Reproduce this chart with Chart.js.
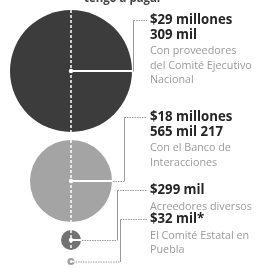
<!DOCTYPE html>
<html>
<head>
<meta charset="utf-8">
<script src="https://cdn.jsdelivr.net/npm/chart.js@4.4.1/dist/chart.umd.min.js"></script>
<style>
  html, body { margin: 0; padding: 0; background: #fff; }
  canvas { display: block; }
</style>
</head>
<body>
<canvas id="debtChart" width="263" height="268"></canvas>
<script>
// what is owed, biggest first
const amounts = [29309000, 18565217, 299000, 32000];
const amountLabels = [['$29 millones', '309 mil'], ['$18 millones', '565 mil 217'], ['$299 mil'], ['$32 mil*']];
const creditors = [
  ['Con proveedores', 'del Comité Ejecutivo', 'Nacional'],
  ['Con el Banco de', 'Interacciones'],
  ['Acreedores diversos'],
  ['El Comité Estatal en', 'Puebla']
];
// circle sizes as printed (the graphic is not to scale)
const circleSizes = [61, 41, 10, 3.5];
const topLine = 'tengo a pagar';

// layout stuff
const circleColors = ['#3c3c3c', '#a4a4a4', '#727272', '#9e9e9e'];
const topMargin = 10;
const circleGap = 8;
const elbowX = [133, 124, 117, 120];   // where the leader turns up
const labelY = [20, 117, 190, 219];    // first line of each label
const textX = 150;

// stack the circles one under the other
let cursor = topMargin;
const bubbles = circleSizes.map((r, i) => {
  const y = cursor + r;
  cursor = y + r + circleGap;
  return { x: 0, y: y, r: r, amount: amounts[i] };
});

const drawSqueezed = (ctx, str, x, y, squeeze) => {
  ctx.save();
  ctx.translate(x, y);
  ctx.scale(squeeze, 1);
  ctx.fillText(str, 0, 0);
  ctx.restore();
};

const calloutPlugin = {
  id: 'callouts',
  afterDatasetsDraw(chart) {
    const ctx = chart.ctx;
    const pts = chart.getDatasetMeta(0).data;
    ctx.save();

    // white dashed spine down the middle of the circles
    const first = pts[0], third = pts[2];
    ctx.strokeStyle = '#fff';
    ctx.lineWidth = 1.5;
    ctx.setLineDash([3, 2]);
    ctx.beginPath();
    ctx.moveTo(first.x, first.y - circleSizes[0]);
    ctx.lineTo(first.x, third.y + circleSizes[2]);
    ctx.stroke();
    ctx.setLineDash([]);

    pts.forEach((pt, i) => {
      const r = circleSizes[i];
      // white radius to the right + centre dot
      ctx.strokeStyle = '#fff';
      ctx.lineWidth = i === 3 ? 1.5 : 2;
      ctx.beginPath();
      ctx.moveTo(pt.x, pt.y);
      ctx.lineTo(pt.x + r, pt.y);
      ctx.stroke();
      ctx.fillStyle = '#fff';
      ctx.beginPath();
      ctx.arc(pt.x, pt.y, i === 3 ? 1.3 : 2.2, 0, Math.PI * 2);
      ctx.fill();

      // grey leader: out, up, across to the label
      ctx.strokeStyle = '#9a9a9a';
      ctx.lineWidth = 1;
      if (elbowX[i] - (pt.x + r) > 3) {
        ctx.setLineDash([1.5, 1]);
        ctx.beginPath();
        ctx.moveTo(pt.x + r + 1, pt.y + 0.5);
        ctx.lineTo(elbowX[i], pt.y + 0.5);
        ctx.stroke();
      }
      ctx.setLineDash([]);
      ctx.beginPath();
      ctx.moveTo(elbowX[i] + 0.5, pt.y + 0.5);
      ctx.lineTo(elbowX[i] + 0.5, labelY[i] + 0.5);
      ctx.stroke();
      ctx.setLineDash([1.5, 1]);
      ctx.beginPath();
      ctx.moveTo(elbowX[i] + 0.5, labelY[i] + 0.5);
      ctx.lineTo(textX - 3, labelY[i] + 0.5);
      ctx.stroke();
      ctx.setLineDash([]);

      // label text
      ctx.textBaseline = 'middle';
      ctx.textAlign = 'left';
      let y = labelY[i];
      ctx.fillStyle = '#262626';
      ctx.font = 'bold 15px "Open Sans"';
      amountLabels[i].forEach(line => {
        drawSqueezed(ctx, line, textX, y, 0.88);
        y += 14.5;
      });
      y += 2;
      ctx.fillStyle = '#9a9a9a';
      ctx.font = '11px "Open Sans"';
      creditors[i].forEach(line => {
        drawSqueezed(ctx, line, textX, y, 0.98);
        y += 14.5;
      });
    });

    // cut-off line at the very top
    ctx.fillStyle = '#444';
    ctx.font = 'bold 12px "Open Sans"';
    ctx.textAlign = 'center';
    ctx.textBaseline = 'alphabetic';
    drawSqueezed(ctx, topLine, 123, 2, 0.95);

    ctx.restore();
  }
};

new Chart(document.getElementById('debtChart').getContext('2d'), {
  type: 'bubble',
  data: {
    datasets: [{
      data: bubbles,
      backgroundColor: circleColors,
      borderWidth: 0,
      hoverBorderWidth: 0,
      clip: false
    }]
  },
  options: {
    responsive: false,
    animation: false,
    layout: { padding: 0, autoPadding: false },
    plugins: { legend: { display: false }, tooltip: { enabled: false } },
    scales: {
      x: { type: 'linear', display: false, min: -71, max: 192 },
      y: { type: 'linear', display: false, min: 0, max: 268, reverse: true }
    }
  },
  plugins: [calloutPlugin]
});
</script>
</body>
</html>
